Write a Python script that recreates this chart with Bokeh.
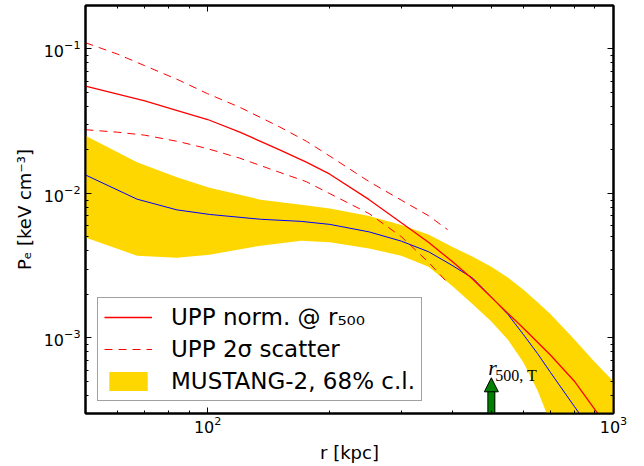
from bokeh.plotting import figure
from bokeh.models import (LogAxis, FixedTicker, Legend, LegendItem, Label,
                          Arrow, NormalHead)
from bokeh.embed import file_html
from bokeh.resources import INLINE

# ---------------- data ----------------
# UPP normalised at r500 (red solid)
r_upp = [50, 60, 70, 85, 100, 120, 150, 175, 200, 250, 300, 350, 400, 450,
         500, 600, 700, 800, 900, 1000]
p_upp = [0.0553, 0.0487, 0.0437, 0.0372, 0.0325, 0.0266, 0.0201, 0.01647,
         0.0136, 0.00906, 0.00628, 0.00459, 0.00339, 0.002547, 0.00191,
         0.001167, 0.000759, 0.000504, 0.000319, 0.000212]

# UPP 2-sigma scatter (red dashed)
r_sc = [50, 60, 70, 85, 100, 120, 150, 175, 200, 250, 300, 350, 390]
p_sc_hi = [0.1105, 0.0921, 0.0766, 0.0608, 0.0490, 0.0395, 0.0290, 0.02301,
           0.01812, 0.01207, 0.00899, 0.00702, 0.00562]
p_sc_lo = [0.02763, 0.02655, 0.02532, 0.02283, 0.02042, 0.01755, 0.01404,
           0.01207, 0.00997, 0.00725, 0.005023, 0.003346, 0.002413]

# MUSTANG-2 best fit (blue) and 68% c.l. band (gold)
r_m2 = [50, 67, 84, 101, 135, 170, 200, 250, 300, 350, 400, 450, 500, 550,
        600, 650, 700, 800, 900, 1000]
p_m2 = [0.01343, 0.00913, 0.00770, 0.00716, 0.00663, 0.00641, 0.00611,
        0.00542, 0.00468, 0.003955, 0.003184, 0.002594, 0.00192, 0.00145,
        0.001054, 0.000779, 0.000575, 0.000337, 0.000211, 0.000137]
p_m2_hi = [0.02512, 0.01647, 0.01297, 0.01096, 0.00906, 0.00836, 0.00787,
           0.00699, 0.00606, 0.00521, 0.00428, 0.00365, 0.003114, 0.002606,
           0.002157, 0.001766, 0.001459, 0.000978, 0.00068, 0.0005]
p_m2_lo = [0.004967, 0.003712, 0.003594, 0.00377, 0.004354, 0.004716, 0.0046,
           0.004157, 0.003706, 0.003114, 0.002301, 0.001714, 0.001299,
           0.000967, 0.000675, 0.000432, 0.000257, 0.000079, 0.00003, 0.000012]

r500_T = 500.0

x_major = [100, 1000]
x_minor = [60, 70, 80, 90, 200, 300, 400, 500, 600, 700, 800, 900]
y_major = [1e-3, 1e-2, 1e-1]
y_minor = ([k * 1e-4 for k in range(4, 10)] + [k * 1e-3 for k in range(2, 10)]
           + [k * 1e-2 for k in range(2, 10)] + [2e-1])

# ---------------- figure ----------------
X_RANGE = (50, 1000)
Y_RANGE = (3e-4, 0.2)

p = figure(width=644, height=466, x_axis_type="log", y_axis_type="log",
           x_range=X_RANGE, y_range=Y_RANGE,
           output_backend="svg", toolbar_location=None,
           min_border_left=85, min_border_right=31,
           min_border_top=5, min_border_bottom=53)
p.xgrid.visible = False
p.ygrid.visible = False
p.outline_line_color = "black"
p.outline_line_width = 2
p.background_fill_color = "white"
p.border_fill_color = "white"

FONT = "DejaVu Sans"


def style_axis(ax):
    ax.axis_line_color = "black"
    ax.axis_line_width = 2
    ax.major_tick_in = 6
    ax.major_tick_out = 0
    ax.minor_tick_in = 3
    ax.minor_tick_out = 0
    ax.major_tick_line_color = "black"
    ax.minor_tick_line_color = "black"
    ax.major_tick_line_width = 1
    ax.minor_tick_line_width = 1
    ax.major_label_text_font = FONT
    ax.major_label_text_font_size = "16px"
    ax.major_label_text_color = "black"
    ax.axis_label_text_font = FONT
    ax.axis_label_text_font_style = "normal"
    ax.axis_label_text_color = "black"


xa = p.xaxis[0]
ya = p.yaxis[0]
style_axis(xa)
style_axis(ya)
xa.ticker = FixedTicker(ticks=x_major, minor_ticks=x_minor)
ya.ticker = FixedTicker(ticks=y_major, minor_ticks=y_minor)
xa.axis_label = "r [kpc]"
ya.axis_label = "P\u2091 [keV cm\u207b\u00b3]"
xa.axis_label_text_font_size = "18px"
ya.axis_label_text_font_size = "18px"
xa.major_label_standoff = 2
xa.axis_label_standoff = 6
ya.major_label_standoff = 5
ya.axis_label_standoff = 6

# mirrored tick marks on the top and right frame edges (no labels)
top = LogAxis(ticker=FixedTicker(ticks=x_major, minor_ticks=x_minor))
right = LogAxis(ticker=FixedTicker(ticks=y_major, minor_ticks=y_minor))
for ax in (top, right):
    style_axis(ax)
    ax.major_label_text_font_size = "1px"
    ax.major_label_text_alpha = 0.0
    ax.major_label_standoff = 0
p.add_layout(top, "above")
p.add_layout(right, "right")

# ---------------- glyphs ----------------
band = p.varea(x=r_m2, y1=p_m2_lo, y2=p_m2_hi, fill_color="#FFD700",
               fill_alpha=1.0)
blue = p.line(r_m2, p_m2, line_color="blue", line_width=1)
red = p.line(r_upp, p_upp, line_color="red", line_width=1.3)
dash_hi = p.line(r_sc, p_sc_hi, line_color="red", line_width=1,
                 line_dash="8 6")
dash_lo = p.line(r_sc, p_sc_lo, line_color="red", line_width=1,
                 line_dash="8 6")

# r500 arrow
tipP = 5.3e-4
baseP = 4.35e-4
p.segment(x0=[r500_T], y0=[Y_RANGE[0]], x1=[r500_T], y1=[baseP],
          line_color="black", line_width=8)
p.segment(x0=[r500_T], y0=[Y_RANGE[0]], x1=[r500_T], y1=[baseP],
          line_color="#008000", line_width=6)
p.add_layout(Arrow(end=NormalHead(size=14, fill_color="#008000",
                                  line_color="black", line_width=1),
                   x_start=r500_T, y_start=baseP, x_end=r500_T, y_end=tipP,
                   line_alpha=0))
p.add_layout(Label(x=r500_T, y=tipP, x_offset=-3, y_offset=10, text="r",
                   text_font="Liberation Serif", text_font_style="italic",
                   text_font_size="22px", text_color="black",
                   text_baseline="alphabetic"))
p.add_layout(Label(x=r500_T, y=tipP, x_offset=4, y_offset=2, text="500, T",
                   text_font="Liberation Serif", text_font_size="16px",
                   text_color="black", text_baseline="alphabetic"))

# ---------------- legend ----------------
legend = Legend(items=[
    LegendItem(label="UPP norm. @ r\u2085\u2080\u2080", renderers=[red]),
    LegendItem(label="UPP 2\u03c3 scatter", renderers=[dash_hi]),
    LegendItem(label="MUSTANG-2, 68% c.l.", renderers=[band]),
], location="bottom_left", margin=12, padding=6, spacing=6,
    glyph_width=48, glyph_height=24, label_height=24, label_standoff=19,
    label_text_font=FONT, label_text_font_size="23px",
    label_text_color="black",
    border_line_color="#444444", border_line_width=1.5,
    background_fill_color="white", background_fill_alpha=1.0)
p.add_layout(legend)

open("out.html", "w").write(file_html(p, INLINE))
